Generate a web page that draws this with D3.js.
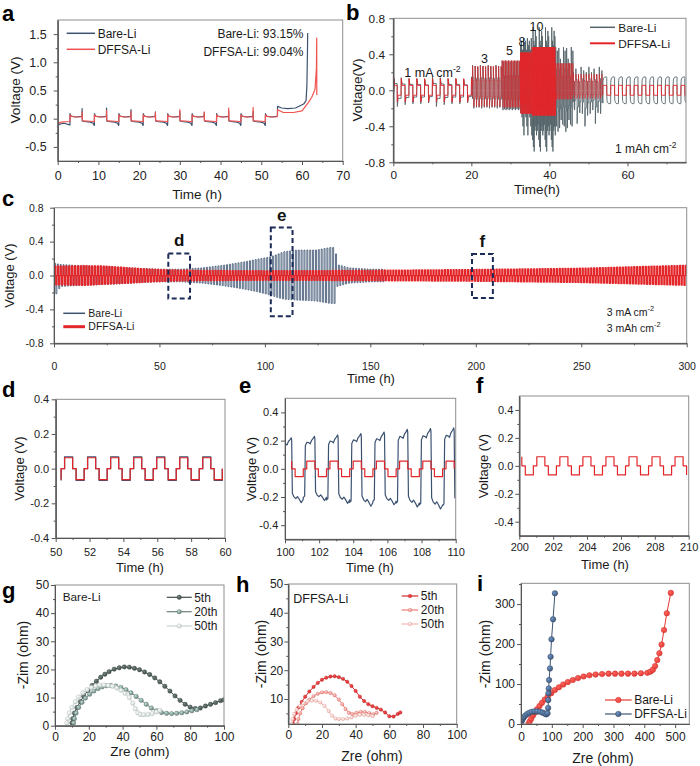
<!DOCTYPE html>
<html><head><meta charset="utf-8">
<script src="https://cdn.jsdelivr.net/npm/d3@7/dist/d3.min.js"></script>
<style>
html,body{margin:0;padding:0;background:#fff;}
svg text{font-family:"Liberation Sans",Arial,sans-serif;font-weight:normal;}
</style></head><body>
<svg id="fig" width="700" height="766" viewBox="0 0 700 766"></svg>
<script>
// ======================= DATA =======================
// ---- (a) Coulombic efficiency test ----
const aCycleStarts = [3, 9, 15, 21, 27, 33, 39, 45];
const aLastStart = 51;
const aTplT    = [0, 0.03, 0.3, 1.5, 2.85, 2.97, 3.0, 3.04, 3.4, 5.0, 5.7, 5.97];
const aRedTpl  = [-0.05, 0.07, 0.04, 0.03, 0.035, 0.05, null, -0.03, -0.04, -0.045, -0.05, -0.055];
const aBareTpl = [-0.11, 0.09, 0.045, 0.03, 0.04, 0.06, null, -0.04, -0.05, -0.06, -0.08, -0.12];
const aRedSpike  = [0.12, 0.15, 0.13, 0.11, 0.16, 0.12, 0.19, 0.2];
const aBareSpike = [0.18, 0.19, 0.16, 0.12, 0.13, 0.11, 0.13, 0.13];
const aRedHeadT  = [0, 0.05, 0.5, 1.5, 2.97];
const aRedHeadV  = [-0.13, -0.1, -0.065, -0.055, -0.05];
const aBareHeadT = [0, 0.05, 0.3, 1.5, 2.97];
const aBareHeadV = [-0.5, -0.15, -0.1, -0.08, -0.11];
const aRedTailT  = [54.0, 55.4, 57.9, 60.0, 61.6, 62.4, 63.2, 63.55, 63.62, 63.64];
const aRedTailV  = [0.16, 0.11, 0.11, 0.14, 0.29, 0.38, 0.52, 0.9, 1.43, 0.42];
const aBareTailT = [54.0, 55.0, 56.5, 58.4, 60.4, 61.0, 61.2, 61.35, 61.4];
const aBareTailV = [0.22, 0.19, 0.18, 0.19, 0.26, 0.32, 0.58, 1.2, 1.52];
const aCE = ["Bare-Li: 93.15%", "DFFSA-Li: 99.04%"];

// ---- (b) rate test ----
const bSegStart = [0, 20.3, 27.9, 32.6, 35.6, 41.6, 46.1, 53.7];
const bSegEnd   = [20.3, 27.9, 32.6, 35.6, 41.6, 46.1, 53.7, 75];
const bCurrent  = [1, 3, 5, 8, 10, 5, 3, 1];
const bRedHi    = [0.13, 0.27, 0.33, 0.42, 0.48, 0.30, 0.18, 0.055];
const bRedLo    = [-0.13, -0.18, -0.19, -0.26, -0.28, -0.10, -0.09, -0.055];
const bRedPlat  = [0.42, 0.4, 0.45, 0.6, 0.6, 0.5, 0.55, 1.0];
const bBareHi = [
  [0.15, 0.14, 0.13, 0.13, 0.12],
  [0.28, 0.27, 0.26],
  [0.33, 0.32],
  [0.5, 0.55, 0.45, 0.58],
  [0.45, 0.7, 0.55, 0.5, 0.66, 0.6, 0.45, 0.48],
  [0.48, 0.44, 0.47, 0.35, 0.3],
  [0.2, 0.24, 0.18, 0.26, 0.22, 0.2, 0.26],
  [0.15]];
const bBareLo = [
  [-0.18, -0.16, -0.15, -0.15, -0.14],
  [-0.2, -0.19, -0.19],
  [-0.22, -0.21],
  [-0.25, -0.3, -0.4, -0.5],
  [-0.55, -0.63, -0.68, -0.45, -0.4, -0.5, -0.45, -0.38],
  [-0.4, -0.46, -0.42, -0.33, -0.38],
  [-0.22, -0.37, -0.25, -0.26, -0.4, -0.28, -0.26],
  [-0.15]];
const bStartT = [0, 0.05, 0.3];
const bRedStartV = [0.55, 0.15, 0.1];
const bBareStartV = [0.5, 0.15, 0.1];
const bRateLabels = ["3", "5", "8", "10"];
const bRateLabelT = [22.5, 28.9, 32.1, 34.9];
const bRateLabelV = [0.3, 0.39, 0.49, 0.66];

// ---- (c) long cycling, 3 mA cm-2 ----
const cPeriod = 1.36;
const cBareStart = [[0, 0.6], [0.05, 0.1]];
const cRedStart  = [[0, 0.3], [0.05, 0.08]];
const cBareT  = [0, 1, 3, 10, 20, 30, 40, 50, 60, 70, 80, 85, 90, 96, 102.5, 106, 109, 115, 124, 131, 133.5, 134, 140, 150, 157];
const cBareHi = [0.15, 0.14, 0.13, 0.12, 0.11, 0.1, 0.085, 0.075, 0.075, 0.09, 0.12, 0.14, 0.16, 0.19, 0.22, 0.25, 0.28, 0.3, 0.3, 0.33, 0.33, 0.13, 0.09, 0.075, 0.075];
const cBareLo = [-0.2, -0.22, -0.13, -0.12, -0.11, -0.1, -0.085, -0.075, -0.075, -0.09, -0.12, -0.14, -0.16, -0.19, -0.23, -0.26, -0.28, -0.29, -0.3, -0.33, -0.33, -0.13, -0.09, -0.075, -0.075];
const cRedT  = [0, 1, 5, 15, 25, 35, 45, 55, 70, 100, 150, 200, 250, 300];
const cRedHi = [0.12, 0.11, 0.11, 0.115, 0.11, 0.09, 0.075, 0.065, 0.06, 0.055, 0.06, 0.07, 0.085, 0.12];
const cRedLo = [-0.12, -0.11, -0.11, -0.115, -0.1, -0.09, -0.075, -0.065, -0.06, -0.055, -0.06, -0.067, -0.082, -0.115];
const cBoxLabel = ["d", "e", "f"];
const cBoxT0 = [54.2, 102.8, 198.2];
const cBoxT1 = [64.5, 113.1, 208.1];
const cBoxV0 = [-0.27, -0.48, -0.266];
const cBoxV1 = [0.26, 0.565, 0.255];

// ---- (d),(e),(f) zoom-ins: one cycle shape + levels ----
const sqTpl = [[0, 0], [0.15, 0], [0.15, 1], [0.5, 1], [0.5, 0], [0.65, 0], [0.65, -1], [1, -1]];
const zPeriod = 1.36;
const dCycleStart = 50.32, dRedAmp = 0.063, dBareAmp = 0.068;
const eCycleStart = 101.07, eRedAmp = 0.055;
const fCycleStart = 200.83, fRedAmp = 0.065;
const eBareTpl = [[0, -0.9], [0.06, -0.86], [0.09, 0.72], [0.16, 0.82], [0.25, 0.8], [0.3, 0.77], [0.36, 0.88], [0.44, 0.95], [0.48, 1.0], [0.5, 0.93],
                  [0.53, -0.72], [0.6, -0.83], [0.68, -0.88], [0.75, -0.82], [0.83, -0.9], [0.91, -1.0], [0.96, -0.95], [1, -0.9]];
const eBareHi = [0.22, 0.23, 0.24, 0.25, 0.26, 0.28, 0.285, 0.29];
const eBareLo = [-0.24, -0.225, -0.245, -0.265, -0.255, -0.27, -0.285, -0.29];

// ---- (g) EIS Bare-Li ----
const g5x  = [10, 10.5, 11.5, 13, 15, 17, 19.5, 22, 24.5, 27, 29.5, 32, 35, 38, 41, 44, 47, 50, 53, 56, 59, 62, 65, 68, 71, 74, 77, 80, 83, 86, 89, 92, 95, 98, 100];
const g5y  = [1, 2.5, 4.5, 6.5, 8.5, 10.5, 12.5, 14.3, 15.8, 17.2, 18.3, 19.2, 20.1, 20.6, 20.9, 20.8, 20.4, 19.9, 19.1, 18.2, 17, 15.6, 14, 12.3, 10.6, 9, 7.6, 6.6, 6.1, 6.3, 7, 7.6, 8.2, 8.9, 9.2];
const g20x = [11, 11.5, 12.5, 14, 16, 18, 20.5, 23, 25.5, 28, 30.5, 33, 36, 39, 42, 45, 48, 51, 54, 57, 60, 63, 66, 69, 72, 75, 78, 81, 84];
const g20y = [1, 2.5, 4.5, 6.5, 8.3, 9.8, 11.2, 12.3, 13.2, 13.8, 14.2, 14.3, 14.1, 13.6, 12.8, 11.7, 10.4, 9, 7.6, 6.3, 5.3, 4.7, 4.4, 4.3, 4.4, 4.6, 4.9, 5.3, 5.7];
const g50x = [7, 7.5, 8.5, 10, 12, 14, 16.5, 19, 21.5, 24, 26.5, 29, 31.5, 34, 36.5, 39, 41.5, 44, 46, 47.5, 49, 50.5, 52.5, 55, 57.5, 60, 62];
const g50y = [1, 2.5, 4.5, 6.5, 8.5, 10.2, 11.7, 12.8, 13.6, 14.1, 14.4, 14.5, 14.3, 14, 13.4, 12.6, 11.5, 10, 8, 6, 4.6, 4, 3.9, 4, 4.3, 4.9, 5.4];
// ---- (h) EIS DFFSA-Li ----
const h5x  = [3, 3.5, 4.5, 6, 8, 10, 12.5, 15, 17.5, 20, 22.5, 25, 27.5, 30, 32.5, 35, 37.5, 40, 42.5, 45, 47.5, 50, 52.5, 55, 57.5, 60, 62.5, 65, 66.5];
const h5y  = [1.3, 3, 5, 7, 9, 10.8, 12.6, 14.2, 15.6, 16.7, 17.4, 17.8, 17.9, 17.6, 17, 16, 14.5, 12.8, 10.8, 9.3, 8.2, 7.5, 6.9, 6.3, 5.3, 4, 3.9, 4.8, 5.3];
const h20x = [5.5, 6, 7, 8.5, 10.5, 12.5, 15, 17.5, 20, 22.5, 25, 27.5, 30, 32, 34, 36, 38, 40.5, 43, 45.5, 48, 50.5, 52.5];
const h20y = [1.3, 3, 5, 6.8, 8.5, 9.8, 11, 11.8, 12.3, 12.4, 12.1, 11.3, 9.8, 8.2, 6.5, 5.2, 4.8, 5.2, 5.5, 5.5, 5.1, 4.7, 5.2];
const h50x = [2, 2.5, 3.5, 5, 7, 9, 11.5, 14, 16.5, 19, 21.5, 24, 26, 28, 30, 32.5, 35, 37.5, 40, 42.5, 45, 47.5, 50];
const h50y = [1.3, 3, 4.8, 6.3, 7.6, 8.5, 9.2, 9.5, 9.4, 8.8, 7.6, 5.8, 4.2, 3.2, 3, 3, 3.2, 3.6, 4.2, 4.5, 4.5, 4.3, 4];
// ---- (i) EIS after cycling ----
const iBareX = [24, 28, 33, 39, 45, 52, 60, 68, 77, 87, 98, 110, 123, 137, 152, 168, 185, 203, 222, 242, 263, 284, 305, 326, 347, 368, 389, 410, 420, 428, 435, 442, 449, 456, 464, 473, 486];
const iBareY = [0, 6, 13, 21, 29, 37, 45, 53, 61, 69, 77, 85, 92, 99, 105, 110, 115, 119, 122, 124, 125, 126, 126, 126, 126, 126, 127, 128, 131, 136, 145, 160, 177, 199, 235, 277, 328];
const iDffX  = [0, 2, 5, 9, 14, 20, 27, 35, 44, 53, 62, 70, 77, 82, 86, 88, 88.5, 89, 90, 91, 94, 96, 99, 104, 110];
const iDffY  = [2, 7, 12, 17, 21, 25, 28, 30.5, 31.5, 31.5, 30.5, 28.5, 26, 24, 27, 40, 60, 77, 89, 110, 139, 168, 212, 262, 327];
const cycleNames = ["5th", "20th", "50th"];

// ======================= DRAWING =======================
const FONT = '"Liberation Sans", Arial, sans-serif';
const BLUE = "#3b5170", RED = "#e3262a", ARED = "#f0524f", BGRAY = "#56656b";
const svg = d3.select("#fig");
const defs = svg.append("defs");
let clipN = 0;
const fmt1 = v => v.toFixed(1);
const fmt0 = v => String(v);

function panel(o) {
  const x = d3.scaleLinear().domain(o.xd).range(o.xr);
  const y = d3.scaleLinear().domain(o.yd).range(o.yr);
  const id = "clip" + (clipN++);
  defs.append("clipPath").attr("id", id).append("rect")
    .attr("x", o.xr[0]).attr("y", o.yr[1]).attr("width", o.xr[1] - o.xr[0]).attr("height", o.yr[0] - o.yr[1]);
  const g = svg.append("g");
  const plot = g.append("g").attr("clip-path", `url(#${id})`);
  return {x, y, g, plot, o};
}
function styleAxis(s, fs) {
  s.select(".domain").attr("stroke", "#555");
  s.selectAll(".tick line").attr("stroke", "#555");
  s.selectAll("text").attr("fill", "#222").style("font-size", fs + "px").style("font-family", FONT);
}
function axes(p) {
  const o = p.o, g = p.g;
  g.append("rect").attr("x", o.xr[0]).attr("y", o.yr[1]).attr("width", o.xr[1] - o.xr[0]).attr("height", o.yr[0] - o.yr[1])
    .attr("fill", "none").attr("stroke", "#8e8e8e").attr("stroke-width", 1);
  const ax = g.append("g").attr("transform", `translate(0,${o.yr[0]})`)
    .call(d3.axisBottom(p.x).tickValues(o.xt).tickSize(4).tickSizeOuter(0).tickPadding(o.xpad).tickFormat(o.xf));
  const axm = g.append("g").attr("transform", `translate(0,${o.yr[0]})`)
    .call(d3.axisBottom(p.x).tickValues(o.xm).tickSize(2).tickSizeOuter(0).tickFormat(""));
  const ay = g.append("g").attr("transform", `translate(${o.xr[0]},0)`)
    .call(d3.axisLeft(p.y).tickValues(o.yt).tickSize(4).tickSizeOuter(0).tickPadding(o.ypad).tickFormat(o.yf));
  const aym = g.append("g").attr("transform", `translate(${o.xr[0]},0)`)
    .call(d3.axisLeft(p.y).tickValues(o.ym).tickSize(2).tickSizeOuter(0).tickFormat(""));
  [ax, axm, ay, aym].forEach(s => styleAxis(s, o.fs));
}
function txt(x, y, s, fs, opts = {}) {
  const t = svg.append("text").attr("x", x).attr("y", y).text(s)
    .style("font-size", fs + "px").style("font-family", FONT).attr("fill", opts.fill || "#1a1a1a");
  if (opts.anchor) t.attr("text-anchor", opts.anchor);
  if (opts.bold) t.style("font-weight", "bold");
  if (opts.rot) t.attr("transform", `rotate(-90,${x},${y})`);
  return t;
}
function supTxt(x, y, base, sup, fs) {
  const t = svg.append("text").attr("x", x).attr("y", y).style("font-size", fs + "px").style("font-family", FONT).attr("fill", "#1a1a1a");
  t.append("tspan").text(base);
  t.append("tspan").attr("dy", -fs * 0.42).style("font-size", (fs * 0.7) + "px").text(sup);
  return t;
}
function drawLine(p, pts, color, w, parent) {
  (parent || p.plot).append("path").datum(pts)
    .attr("d", d3.line().x(d => p.x(d[0])).y(d => p.y(d[1])))
    .attr("fill", "none").attr("stroke", color).attr("stroke-width", w).attr("stroke-linejoin", "round");
}
// repeat a one-cycle shape; hi(k,t) / lo(k,t) give the levels of cycle k
function cycles(tA, tB, t0, per, tpl, hi, lo) {
  const pts = [];
  for (let k = Math.floor((tA - t0) / per) - 1; t0 + k * per <= tB; k++) {
    const cs = t0 + k * per;
    const H = hi(k, cs + 0.3 * per), L = lo(k, cs + 0.8 * per);
    for (const [f, n] of tpl) {
      const t = cs + f * per;
      if (t < tA - 1e-9 || t > tB + 1e-9) continue;
      pts.push([t, n >= 0 ? n * H : -n * L]);
    }
  }
  return pts;
}
function panelLetter(x, y, s) { txt(x, y, s, 22, {bold: true, fill: "#000"}); }

// ---------------- (a) ----------------
{
  const p = panel({xd: [0, 70], xr: [57.7, 342.7], yd: [-0.75, 1.75], yr: [161, 20],
    xt: d3.range(0, 71, 10), xm: d3.range(5, 70, 10), yt: [-0.5, 0, 0.5, 1, 1.5], ym: [-0.25, 0.25, 0.75, 1.25],
    xf: fmt0, yf: fmt1, fs: 12.5, xpad: 6.5, ypad: 7});
  function build(headT, headV, tpl, spikes, tailT, tailV) {
    const pts = headT.map((t, i) => [t, headV[i]]);
    aCycleStarts.forEach((s, k) => {
      aTplT.forEach((dt, j) => pts.push([s + dt, tpl[j] === null ? spikes[k] : tpl[j]]));
    });
    aTplT.slice(0, 6).forEach((dt, j) => pts.push([aLastStart + dt, tpl[j]]));
    tailT.forEach((t, i) => pts.push([t, tailV[i]]));
    return pts;
  }
  drawLine(p, build(aBareHeadT, aBareHeadV, aBareTpl, aBareSpike, aBareTailT, aBareTailV), BLUE, 1.2);
  drawLine(p, build(aRedHeadT, aRedHeadV, aRedTpl, aRedSpike, aRedTailT, aRedTailV), ARED, 1.2);
  axes(p);
  svg.append("line").attr("x1", 66.7).attr("x2", 95).attr("y1", 33.3).attr("y2", 33.3).attr("stroke", BLUE).attr("stroke-width", 1.5);
  svg.append("line").attr("x1", 66.7).attr("x2", 95).attr("y1", 49.3).attr("y2", 49.3).attr("stroke", ARED).attr("stroke-width", 1.5);
  txt(97.7, 37.6, "Bare-Li", 12);
  txt(97.7, 53.6, "DFFSA-Li", 12);
  txt(303.5, 37.5, aCE[0], 12, {anchor: "end"});
  txt(303.5, 55.5, aCE[1], 12, {anchor: "end"});
  txt(15, 90, "Voltage (V)", 13.5, {anchor: "middle", rot: true}).attr("dy", "0.35em");
  txt(197, 199, "Time (h)", 13.5, {anchor: "middle"});
  panelLetter(2, 21, "a");
}

// ---------------- (b) ----------------
{
  const p = panel({xd: [0, 75], xr: [393.3, 686], yd: [-0.8, 0.8], yr: [162.3, 18.3],
    xt: [0, 20, 40, 60], xm: [10, 30, 50, 70], yt: [-0.8, -0.4, 0, 0.4, 0.8], ym: [-0.6, -0.2, 0.2, 0.6],
    xf: fmt0, yf: fmt1, fs: 11.8, xpad: 4.4, ypad: 4.3});
  const spikeTpl = q => [[0, 0], [0.02, 1], [0.12, q], [0.5, q], [0.5, 0], [0.52, -1], [0.62, -q], [1, -q]];
  const roundTpl = [[0, 0.3], [0.03, 0.75], [0.1, 0.9], [0.2, 0.97], [0.45, 1], [0.5, 0.95], [0.5, -0.3], [0.53, -0.75], [0.6, -0.9], [0.7, -0.97], [0.95, -1], [1, -0.95]];
  let gray = bStartT.map((t, i) => [t, bBareStartV[i]]);
  const reds = [];
  bSegStart.forEach((s, i) => {
    const per = 2 / bCurrent[i];
    const gt = i === bSegStart.length - 1 ? roundTpl : spikeTpl(0.5);
    gray = gray.concat(cycles(s, bSegEnd[i], s, per, gt,
      k => bBareHi[i][((k % bBareHi[i].length) + bBareHi[i].length) % bBareHi[i].length],
      k => bBareLo[i][((k % bBareLo[i].length) + bBareLo[i].length) % bBareLo[i].length]));
    const pts = (i === 0 ? bStartT.map((t, j) => [t, bRedStartV[j]]) : []).concat(
      cycles(s, bSegEnd[i], s, per, spikeTpl(bRedPlat[i]), () => bRedHi[i], () => bRedLo[i]));
    reds.push({pts, cur: bCurrent[i]});
  });
  drawLine(p, gray, BGRAY, 0.9);
  // high-rate segments drawn thinner so they read lighter, as in the original
  reds.forEach(r => drawLine(p, r.pts, RED, (r.cur === 3 || r.cur === 5) ? 0.6 : 0.9));
  axes(p);
  bRateLabels.forEach((s, i) => txt(p.x(bRateLabelT[i]), p.y(bRateLabelV[i]), s, 12.5));
  supTxt(404.3, 77.3, "1 mA cm", "-2", 12.5);
  supTxt(615, 153.3, "1 mAh cm", "-2", 12);
  svg.append("line").attr("x1", 590).attr("x2", 615).attr("y1", 27.3).attr("y2", 27.3).attr("stroke", BGRAY).attr("stroke-width", 1.5);
  svg.append("line").attr("x1", 590).attr("x2", 615).attr("y1", 43.3).attr("y2", 43.3).attr("stroke", RED).attr("stroke-width", 2);
  txt(618.3, 31.5, "Bare-Li", 11.8);
  txt(618.3, 47.5, "DFFSA-Li", 11.8);
  txt(357, 90, "Voltage(V)", 13.5, {anchor: "middle", rot: true}).attr("dy", "0.35em");
  txt(537, 194, "Time(h)", 13.5, {anchor: "middle"});
  panelLetter(346, 20, "b");
}

// ---------------- (c) ----------------
{
  const p = panel({xd: [0, 300], xr: [54, 686.7], yd: [-0.8, 0.8], yr: [343.3, 207.7],
    xt: d3.range(0, 301, 50), xm: d3.range(25, 300, 50), yt: [-0.8, -0.4, 0, 0.4, 0.8], ym: [-0.6, -0.2, 0.2, 0.6],
    xf: fmt0, yf: fmt1, fs: 10.5, xpad: 15, ypad: 6.5});
  const bh = d3.scaleLinear().domain(cBareT).range(cBareHi).clamp(true);
  const bl = d3.scaleLinear().domain(cBareT).range(cBareLo).clamp(true);
  const rh = d3.scaleLinear().domain(cRedT).range(cRedHi).clamp(true);
  const rl = d3.scaleLinear().domain(cRedT).range(cRedLo).clamp(true);
  drawLine(p, cBareStart.concat(cycles(0, 157, 0, cPeriod, sqTpl, (k, t) => bh(t), (k, t) => bl(t))), BLUE, 0.8);
  drawLine(p, cRedStart.concat(cycles(0, 300, 0, cPeriod, sqTpl, (k, t) => rh(t), (k, t) => rl(t))), RED, 1.4);
  axes(p);
  cBoxLabel.forEach((s, i) => {
    svg.append("rect").attr("x", p.x(cBoxT0[i])).attr("y", p.y(cBoxV1[i]))
      .attr("width", p.x(cBoxT1[i]) - p.x(cBoxT0[i])).attr("height", p.y(cBoxV0[i]) - p.y(cBoxV1[i]))
      .attr("fill", "none").attr("stroke", "#1c2b58").attr("stroke-width", 2).attr("stroke-dasharray", "5,3");
    txt((p.x(cBoxT0[i]) + p.x(cBoxT1[i])) / 2, p.y(cBoxV1[i]) - 7, s, 17, {anchor: "middle", bold: true, fill: "#111"});
  });
  svg.append("line").attr("x1", 63.3).attr("x2", 85).attr("y1", 313.3).attr("y2", 313.3).attr("stroke", BLUE).attr("stroke-width", 1.5);
  svg.append("line").attr("x1", 63.3).attr("x2", 85).attr("y1", 326.7).attr("y2", 326.7).attr("stroke", RED).attr("stroke-width", 3);
  txt(88.3, 317, "Bare-Li", 10.5);
  txt(88.3, 330.4, "DFFSA-Li", 10.5);
  supTxt(606.7, 315.7, "3 mA cm", "-2", 10.5);
  supTxt(606.7, 331.7, "3 mAh cm", "-2", 10.5);
  txt(9, 275.5, "Voltage (V)", 13, {anchor: "middle", rot: true}).attr("dy", "0.35em");
  txt(371, 382.5, "Time (h)", 13, {anchor: "middle"});
  panelLetter(2, 206, "c");
}

// ---------------- (d) ----------------
{
  const p = panel({xd: [50, 60], xr: [55.7, 225], yd: [-0.4, 0.4], yr: [538, 399.3],
    xt: d3.range(50, 61, 2), xm: d3.range(51, 60, 2), yt: [-0.4, -0.2, 0, 0.2, 0.4], ym: [-0.3, -0.1, 0.1, 0.3],
    xf: fmt0, yf: fmt1, fs: 11, xpad: 6, ypad: 2.5});
  drawLine(p, cycles(50, 60, dCycleStart, zPeriod, sqTpl, () => dBareAmp, () => -dBareAmp), BLUE, 1.3);
  drawLine(p, cycles(50, 60, dCycleStart, zPeriod, sqTpl, () => dRedAmp, () => -dRedAmp), RED, 1.2);
  axes(p);
  txt(19, 468.5, "Voltage (V)", 13, {anchor: "middle", rot: true}).attr("dy", "0.35em");
  txt(140, 572, "Time (h)", 13, {anchor: "middle"});
  panelLetter(2, 397, "d");
}

// ---------------- (e) ----------------
{
  const p = panel({xd: [100, 110], xr: [285, 455.7], yd: [-0.5, 0.5], yr: [539.3, 398.3],
    xt: d3.range(100, 111, 2), xm: d3.range(101, 110, 2), yt: [-0.4, -0.2, 0, 0.2, 0.4], ym: [-0.3, -0.1, 0.1, 0.3],
    xf: fmt0, yf: fmt1, fs: 11, xpad: 4.4, ypad: 2.7});
  drawLine(p, cycles(100, 110, eCycleStart, zPeriod, eBareTpl, k => eBareHi[Math.min(k + 1, 7)], k => eBareLo[Math.min(k + 1, 7)]), BLUE, 1.2);
  drawLine(p, cycles(100, 110, eCycleStart, zPeriod, sqTpl, () => eRedAmp, () => -eRedAmp), RED, 1.2);
  axes(p);
  txt(251, 469, "Voltage (V)", 13, {anchor: "middle", rot: true}).attr("dy", "0.35em");
  txt(370, 572, "Time (h)", 13, {anchor: "middle"});
  panelLetter(239, 393, "e");
}

// ---------------- (f) ----------------
{
  const p = panel({xd: [200, 210], xr: [519.3, 688.7], yd: [-0.5, 0.5], yr: [535.7, 396],
    xt: d3.range(200, 211, 2), xm: d3.range(201, 210, 2), yt: [-0.4, -0.2, 0, 0.2, 0.4], ym: [-0.3, -0.1, 0.1, 0.3],
    xf: fmt0, yf: fmt1, fs: 11, xpad: 3.6, ypad: 2});
  drawLine(p, cycles(200, 210, fCycleStart, zPeriod, sqTpl, () => fRedAmp, () => -fRedAmp), RED, 1.2);
  axes(p);
  txt(483, 466, "Voltage (V)", 13, {anchor: "middle", rot: true}).attr("dy", "0.35em");
  txt(605, 569, "Time (h)", 13, {anchor: "middle"});
  panelLetter(476, 393, "f");
}

// ---------------- EIS helpers ----------------
function grad(id, color) {
  const gr = defs.append("radialGradient").attr("id", id).attr("cx", "35%").attr("cy", "35%").attr("r", "70%");
  gr.append("stop").attr("offset", "0%").attr("stop-color", d3.color(color).brighter(1.6));
  gr.append("stop").attr("offset", "100%").attr("stop-color", color);
}
function series(p, xs, ys, color, id, r, lw) {
  const pts = xs.map((v, i) => [v, ys[i]]);
  drawLine(p, pts, color, lw);
  p.plot.append("g").selectAll("circle").data(pts).join("circle")
    .attr("cx", d => p.x(d[0])).attr("cy", d => p.y(d[1])).attr("r", r)
    .attr("fill", `url(#${id})`).attr("stroke", d3.color(color).darker(0.4)).attr("stroke-width", 0.4);
}
function legendItem(x1, x2, y, color, id, r, label, fs, lw) {
  svg.append("line").attr("x1", x1).attr("x2", x2).attr("y1", y).attr("y2", y).attr("stroke", color).attr("stroke-width", lw);
  svg.append("circle").attr("cx", (x1 + x2) / 2).attr("cy", y).attr("r", r).attr("fill", `url(#${id})`).attr("stroke", d3.color(color).darker(0.4)).attr("stroke-width", 0.4);
  txt(x2 + 2.5, y + fs * 0.36, label, fs);
}
const gCols = ["#404b49", "#6b807b", "#c6d3cf"];
const hCols = ["#d32b2d", "#ee7d78", "#f6b4ac"];
gCols.forEach((c, i) => grad("gg" + i, c));
hCols.forEach((c, i) => grad("hg" + i, c));
grad("ib", "#e33934");
grad("id", "#3e5472");

// ---------------- (g) ----------------
{
  const p = panel({xd: [0, 100], xr: [55, 224], yd: [0, 50], yr: [725.7, 585],
    xt: d3.range(0, 101, 20), xm: d3.range(10, 100, 20), yt: d3.range(0, 51, 10), ym: d3.range(5, 50, 10),
    xf: fmt0, yf: fmt0, fs: 12, xpad: 3, ypad: 1.8});
  series(p, g5x, g5y, gCols[0], "gg0", 2.2, 1);
  series(p, g20x, g20y, gCols[1], "gg1", 2.2, 1);
  series(p, g50x, g50y, gCols[2], "gg2", 2.2, 1);
  axes(p);
  [597.3, 611.7, 626].forEach((y, i) => legendItem(166.7, 191.7, y, gCols[i], "gg" + i, 2.2, cycleNames[i], 12, 1.2));
  txt(62.7, 601, "Bare-Li", 11.8);
  txt(23, 655, "-Zim (ohm)", 14, {anchor: "middle", rot: true}).attr("dy", "0.35em");
  txt(140, 756, "Zre (ohm)", 13.5, {anchor: "middle"});
  panelLetter(2, 598, "g");
}

// ---------------- (h) ----------------
{
  const p = panel({xd: [0, 100], xr: [288.3, 456.7], yd: [1.3, 50], yr: [724, 584],
    xt: d3.range(0, 101, 20), xm: d3.range(10, 100, 20), yt: d3.range(10, 51, 10), ym: d3.range(5, 50, 10),
    xf: fmt0, yf: fmt0, fs: 12, xpad: 2.2, ypad: 1});
  series(p, h5x, h5y, hCols[0], "hg0", 1.7, 1);
  series(p, h20x, h20y, hCols[1], "hg1", 1.7, 1);
  series(p, h50x, h50y, hCols[2], "hg2", 1.7, 1);
  axes(p);
  [596, 610, 624].forEach((y, i) => legendItem(401.7, 418.3, y, hCols[i], "hg" + i, 1.8, cycleNames[i], 12, 1.2));
  txt(293.3, 602.7, "DFFSA-Li", 12.5);
  txt(261, 654, "-Zim (ohm)", 14, {anchor: "middle", rot: true}).attr("dy", "0.35em");
  txt(372, 761, "Zre (ohm)", 14, {anchor: "middle"});
  panelLetter(236, 592, "h");
}

// ---------------- (i) ----------------
{
  const p = panel({xd: [0, 546], xr: [521, 689.3], yd: [0, 352], yr: [724, 583.3],
    xt: d3.range(0, 501, 100), xm: d3.range(50, 546, 100), yt: [0, 100, 200, 300], ym: [50, 150, 250, 350],
    xf: fmt0, yf: fmt0, fs: 12, xpad: 4.7, ypad: 2});
  series(p, iBareX, iBareY, "#e33934", "ib", 2.8, 1);
  series(p, iDffX, iDffY, "#3e5472", "id", 2.8, 1);
  axes(p);
  legendItem(605, 631.7, 700, "#e33934", "ib", 2.8, "Bare-Li", 12, 1.2);
  legendItem(605, 631.7, 714, "#3e5472", "id", 2.8, "DFFSA-Li", 12, 1.2);
  txt(485, 654, "-Zim (ohm)", 14, {anchor: "middle", rot: true}).attr("dy", "0.35em");
  txt(603, 763, "Zre (ohm)", 14, {anchor: "middle"});
  panelLetter(477, 591, "i");
}
</script>
</body></html>
